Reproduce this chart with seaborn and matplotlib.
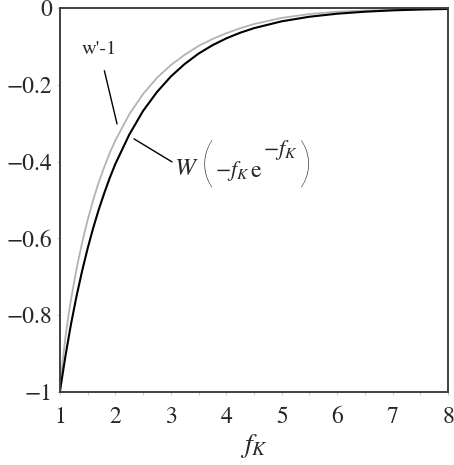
import pandas as pd
import matplotlib
matplotlib.use("Agg")
import matplotlib.pyplot as plt
import seaborn as sns
from matplotlib.ticker import MultipleLocator, FixedLocator, FixedFormatter

# values
f_k = [1.0, 1.02, 1.05, 1.1, 1.15, 1.2, 1.3, 1.4, 1.5, 1.6, 1.7, 1.8, 1.9, 2.0,
       2.25, 2.5, 2.75, 3.0, 3.25, 3.5, 3.75, 4.0, 4.25, 4.5, 5.0, 5.5, 6.0,
       6.5, 7.0, 7.5, 8.0]
w_lambert = [-1.0, -0.980, -0.952, -0.906, -0.864, -0.823, -0.750, -0.685, -0.626,
             -0.573, -0.525, -0.482, -0.442, -0.406, -0.330, -0.268, -0.219,
             -0.1786, -0.146, -0.119, -0.0972, -0.0793, -0.0647, -0.0527,
             -0.0349, -0.0230, -0.0151, -0.0099, -0.0064, -0.0042, -0.0027]
w_prime = [-1.0, -0.961, -0.918, -0.857, -0.805, -0.759, -0.679, -0.611, -0.552,
           -0.500, -0.454, -0.414, -0.377, -0.345, -0.277, -0.224, -0.182,
           -0.149, -0.122, -0.099, -0.081, -0.066, -0.053, -0.042,
           -0.026, -0.016, -0.010, -0.0068, -0.0047, -0.0033, -0.0023]

y_ticks = [-1, -0.8, -0.6, -0.4, -0.2, 0]
y_labels = ["\u22121", "\u22120.8", "\u22120.6", "\u22120.4", "\u22120.2", "0"]
x_ticks = [1, 2, 3, 4, 5, 6, 7, 8]

df = pd.DataFrame({"f": f_k, "W": w_lambert, "wp": w_prime})

sns.set_style("white")
plt.rcParams['font.family'] = 'serif'
plt.rcParams['font.serif'] = ['STIXGeneral', 'Liberation Serif', 'DejaVu Serif']
plt.rcParams['mathtext.fontset'] = 'stix'

fig = plt.figure(figsize=(4.54, 4.65), dpi=100)
ax = fig.add_axes([0.132, 0.157, 0.855, 0.826])

sns.lineplot(data=df, x="f", y="wp", ax=ax, color="#b3b3b3", linewidth=1.3)
sns.lineplot(data=df, x="f", y="W", ax=ax, color="black", linewidth=1.5)

ax.set_xlim(1, 8)
ax.set_ylim(-1, 0)
ax.xaxis.set_major_locator(FixedLocator(x_ticks))
ax.xaxis.set_minor_locator(MultipleLocator(0.5))
ax.yaxis.set_major_locator(FixedLocator(y_ticks))
ax.yaxis.set_major_formatter(FixedFormatter(y_labels))
ax.tick_params(axis="both", which="both", direction="out", length=2.5,
               width=0.8, color="#cccccc", labelsize=17)
ax.tick_params(axis="both", which="minor", length=2)
ax.tick_params(axis="y", which="minor", left=False)
ax.tick_params(axis="x", which="both", bottom=True, pad=8)
ax.tick_params(axis="y", which="major", left=True, pad=3)

for sp in ax.spines.values():
    sp.set_color("#404040")
    sp.set_linewidth(1.4)

ax.set_xlabel("$f_K$", fontsize=20, labelpad=3)
ax.set_ylabel("")

# w'-1 label with leader line
ax.annotate("w'-1", xy=(2.03, -0.302), xytext=(1.71, -0.108),
            fontsize=14.5, ha="center", va="center",
            arrowprops=dict(arrowstyle="-", color="black", lw=1.0,
                            shrinkA=7, shrinkB=0))

# W(-f_K e^{-f_K}) label, built from pieces so the brackets can be tall
ax.annotate("", xy=(2.336, -0.341), xytext=(3.022, -0.401),
            arrowprops=dict(arrowstyle="-", color="black", lw=1.0,
                            shrinkA=0, shrinkB=0))
paren = dict(fontsize=38, va="center", family=["Lato", "STIXGeneral"],
             fontweight="light")
ax.text(3.06, -0.434, "$W$", fontsize=18, ha="left", va="baseline")
ax.text(3.53, -0.414, "(", ha="left", **paren)
ax.text(3.79, -0.438, "$-f_K$", fontsize=16, ha="left", va="baseline")
ax.text(4.43, -0.440, "e", fontsize=17, ha="left", va="baseline")
ax.text(4.66, -0.383, "$-f_K$", fontsize=16, ha="left", va="baseline")
ax.text(5.31, -0.414, ")", ha="left", **paren)

plt.savefig("out.png", dpi=100)
